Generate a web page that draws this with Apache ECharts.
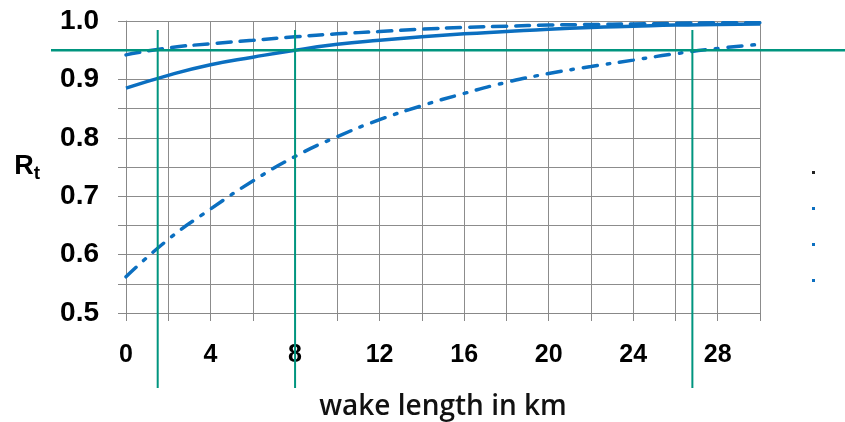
<!DOCTYPE html>
<html>
<head>
<meta charset="utf-8">
<script src="https://cdn.jsdelivr.net/npm/echarts@6/dist/echarts.min.js"></script>
<style>
  html, body { margin: 0; padding: 0; background: #fff; }
  #main { width: 845px; height: 422px; }
</style>
</head>
<body>
<div id="main"></div>
<script>
// wake length in km, every 2 km
var wakeKm = [0, 2, 4, 6, 8, 10, 12, 14, 16, 18, 20, 22, 24, 26, 28, 30];
var solidRt = [0.885, 0.907, 0.925, 0.938, 0.950, 0.960, 0.967, 0.973, 0.978, 0.982, 0.986, 0.989, 0.991, 0.993, 0.994, 0.995];
var dashedRt = [0.942, 0.954, 0.961, 0.967, 0.973, 0.978, 0.982, 0.986, 0.989, 0.991, 0.993, 0.994, 0.995, 0.996, 0.997, 0.997];
var dashDotRt = [0.562, 0.626, 0.678, 0.726, 0.768, 0.802, 0.831, 0.855, 0.876, 0.895, 0.910, 0.922, 0.933, 0.944, 0.953, 0.960];
// teal guide lines
var threshold = 0.95;
var crossKm = [1.5, 8, 26.8];

var blue = '#0b6fc0';
var teal = '#00957f';

function pairs(vals) {
  return wakeKm.map(function (x, i) { return [x, vals[i]]; });
}

var myChart = echarts.init(document.getElementById('main'));

var lineBase = {
  type: 'line',
  smooth: true,
  showSymbol: false,
  silent: true
};

option = {
  animation: false,
  grid: {
    left: 126,
    right: 85,
    top: 21,
    bottom: 109,
    containLabel: false,
    outerBoundsMode: 'none'
  },
  xAxis: {
    type: 'value',
    min: 0,
    max: 30,
    interval: 2,
    name: 'wake length in km',
    nameLocation: 'middle',
    nameGap: 80,
    nameTextStyle: {
      color: '#111',
      fontFamily: 'Open Sans',
      fontWeight: 600,
      fontSize: 28
    },
    axisLine: { lineStyle: { color: '#888', width: 1 } },
    axisTick: { show: true, length: 8, lineStyle: { color: '#888' } },
    splitLine: { show: true, lineStyle: { color: '#8c8c8c', width: 1 } },
    axisLabel: {
      margin: 30,
      color: '#000',
      fontFamily: 'Liberation Sans',
      fontWeight: 'bold',
      fontSize: 25,
      formatter: function (v) {
        return v % 4 === 0 && v < 30 ? String(v) : '';
      }
    }
  },
  yAxis: {
    type: 'value',
    min: 0.5,
    max: 1.0,
    interval: 0.05,
    name: '{r|R}{t|t}',
    nameLocation: 'middle',
    nameRotate: 0,
    nameGap: 86,
    nameTextStyle: {
      rich: {
        r: { fontFamily: 'Liberation Sans', fontWeight: 'bold', fontSize: 27, color: '#000' },
        t: { fontFamily: 'Liberation Sans', fontWeight: 'bold', fontSize: 19, color: '#000', padding: [14, 0, 0, 0] }
      }
    },
    axisLine: { show: true, lineStyle: { color: '#888', width: 1 } },
    axisTick: { show: true, length: 8, lineStyle: { color: '#888' } },
    splitLine: { show: true, lineStyle: { color: '#8c8c8c', width: 1 } },
    axisLabel: {
      margin: 27,
      color: '#000',
      fontFamily: 'Liberation Sans',
      fontWeight: 'bold',
      fontSize: 28,
      formatter: function (v) {
        return Math.round(v * 100) % 10 === 0 ? v.toFixed(1) : '';
      }
    }
  },
  series: [
    Object.assign({}, lineBase, {
      name: 'solid',
      data: pairs(solidRt),
      lineStyle: { color: blue, width: 3.5 }
    }),
    Object.assign({}, lineBase, {
      name: 'dashed',
      data: pairs(dashedRt),
      lineStyle: { color: blue, width: 3.5, type: [14, 9], cap: 'round' }
    }),
    Object.assign({}, lineBase, {
      name: 'dashdot',
      data: pairs(dashDotRt),
      lineStyle: { color: blue, width: 3.5, type: [14, 10, 2.5, 10], cap: 'round' }
    })
  ]
};

myChart.setOption(option);

// teal guide lines drawn through the chart's own scales, reaching past the plot area
var yPix = myChart.convertToPixel({ gridIndex: 0 }, [0, threshold])[1];
var guides = [{
  type: 'line',
  shape: { x1: 51, y1: yPix, x2: 845, y2: yPix },
  style: { stroke: teal, lineWidth: 2.5 },
  z: 100
}];
crossKm.forEach(function (km) {
  var xPix = myChart.convertToPixel({ gridIndex: 0 }, [km, threshold])[0];
  guides.push({
    type: 'line',
    shape: { x1: xPix, y1: 30, x2: xPix, y2: 388 },
    style: { stroke: teal, lineWidth: 2 },
    z: 100
  });
});
// leftover legend marks on the right
var markColors = ['#222', blue, blue, blue];
markColors.forEach(function (c, i) {
  guides.push({
    type: 'rect',
    shape: { x: 812, y: 171 + i * 36, width: 3, height: 3 },
    style: { fill: c },
    z: 100
  });
});
myChart.setOption({ graphic: guides });
</script>
</body>
</html>
